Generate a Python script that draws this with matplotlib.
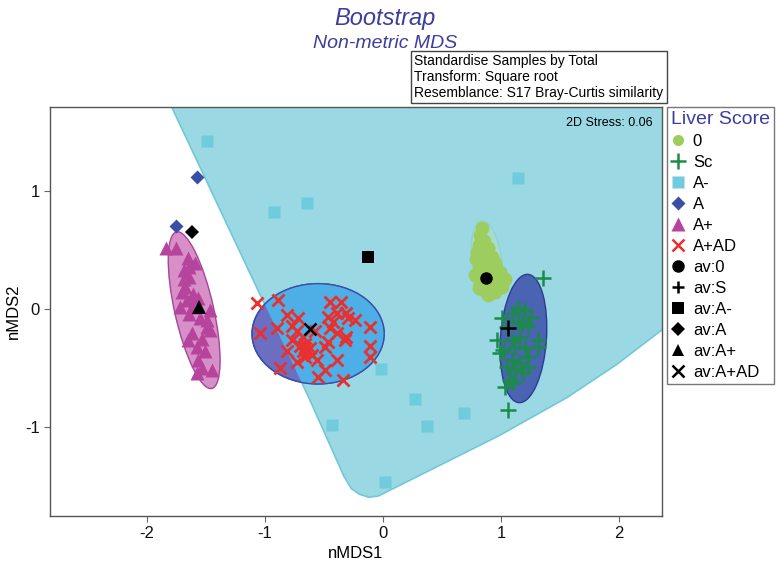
import matplotlib.pyplot as plt
from matplotlib.patches import Ellipse, Polygon
from matplotlib.lines import Line2D

plt.rcParams["font.family"] = ["Liberation Sans", "DejaVu Sans"]
plt.rcParams["axes.unicode_minus"] = False

# smoothed bootstrap region of the A- group (nMDS1, nMDS2)
region_x = [-1.97, -1.79, -1.14, -0.62, -0.33, -0.27, -0.20, -0.12, -0.04, 0.31, 0.65, 0.99, 1.56, 1.98, 2.36, 2.69, 2.69]
region_y = [2.11, 1.71, 0.33, -0.77, -1.42, -1.52, -1.57, -1.595, -1.585, -1.41, -1.24, -1.07, -0.75, -0.47, -0.18, 0.12, 2.11]

# bootstrap means per liver score
s0_x = [0.84, 0.82, 0.86, 0.81, 0.89, 0.80, 0.86, 0.92, 0.79, 0.87, 0.95, 0.81, 0.91, 0.99, 0.78,
        0.86, 0.97, 1.03, 0.82, 0.92, 1.01, 0.86, 0.95, 0.89, 0.81]
s0_y = [0.69, 0.63, 0.58, 0.54, 0.52, 0.48, 0.46, 0.44, 0.42, 0.40, 0.39, 0.35, 0.33, 0.31, 0.29,
        0.26, 0.25, 0.25, 0.22, 0.20, 0.19, 0.16, 0.14, 0.12, 0.18]

sc_x = [1.36, 1.06, 1.14, 1.10, 1.20, 1.01, 1.25, 1.14, 1.18, 1.05, 1.23, 1.31, 0.97, 1.09, 1.16,
        1.02, 1.12, 1.20, 1.23, 1.09, 1.16, 1.23, 1.05, 1.12, 1.19, 1.08, 1.03, 1.10, 1.31, 0.99]
sc_y = [0.26, -0.86, 0.01, -0.03, -0.01, -0.08, -0.07, -0.11, -0.12, -0.15, -0.14, -0.26, -0.26, -0.26, -0.24,
        -0.35, -0.32, -0.33, -0.41, -0.43, -0.46, -0.49, -0.49, -0.52, -0.54, -0.60, -0.66, -0.63, -0.32, -0.37]

am_x = [-1.49, -0.92, -0.64, 1.14, -0.02, 0.27, 0.37, 0.69, -0.43, 0.02]
am_y = [1.42, 0.82, 0.90, 1.11, -0.51, -0.76, -0.99, -0.88, -0.98, -1.47]

a_x = [-1.58, -1.75]
a_y = [1.12, 0.70]

ap_x = [-1.84, -1.75, -1.65, -1.69, -1.64, -1.68, -1.61, -1.66, -1.57, -1.47, -1.64, -1.55, -1.49, -1.62, -1.53,
        -1.47, -1.58, -1.51, -1.57, -1.53, -1.45, -1.58, -1.64, -1.69, -1.72, -1.62, -1.65, -1.49, -1.70, -1.59]
ap_y = [0.52, 0.52, 0.43, 0.33, 0.27, 0.19, 0.13, 0.08, 0.09, -0.01, -0.04, -0.08, -0.15, -0.20, -0.25,
        -0.18, -0.32, -0.36, -0.43, -0.50, -0.52, -0.54, 0.36, 0.25, 0.02, 0.02, -0.26, -0.09, 0.14, 0.39]

apad_x = [-1.07, -0.89, -1.04, -0.90, -0.81, -0.72, -0.73, -0.77, -0.66, -0.70, -0.64, -0.66, -0.73, -0.87,
          -0.60, -0.56, -0.49, -0.55, -0.39, -0.34, -0.47, -0.49, -0.45, -0.36, -0.39, -0.31, -0.47, -0.42,
          -0.45, -0.30, -0.24, -0.32, -0.31, -0.11, -0.11, -0.11, -0.39, -0.58, -0.81, -0.68, -0.77,
          -0.66, -0.62, -0.68]
apad_y = [0.05, 0.08, -0.20, -0.16, -0.05, -0.08, -0.19, -0.26, -0.33, -0.31, -0.35, -0.41, -0.45, -0.50,
          -0.39, -0.43, -0.52, -0.58, -0.43, -0.60, -0.28, -0.32, 0.06, 0.06, -0.03, -0.03, -0.07, -0.11,
          -0.16, -0.08, -0.09, -0.26, -0.24, -0.15, -0.31, -0.41, -0.20, -0.19, -0.36, -0.24, -0.14,
          -0.30, -0.33, -0.36]

# group averages
av_labels = ["av:0", "av:S", "av:A-", "av:A", "av:A+", "av:A+AD"]
av_x = [0.87, 1.06, -0.13, -1.62, -1.56, -0.62]
av_y = [0.26, -0.16, 0.44, 0.65, 0.02, -0.17]
av_markers = ["o", "+", "s", "D", "^", "x"]
av_sizes = [9, 11, 8.5, 7, 10.5, 8.5]

# 95% bootstrap regions: centre x, centre y, width, height, angle
ell_0 = (0.88, 0.42, 0.25, 0.66, 8)
ell_sc = (1.19, -0.25, 0.39, 1.09, -4)
ell_ap = (-1.60, -0.01, 0.33, 1.36, 12.7)
ell_apad = (-0.55, -0.21, 1.12, 0.85, 0)

fig = plt.figure(figsize=(7.82, 5.63), dpi=100)
ax = fig.add_axes([0.0639, 0.0835, 0.7826, 0.7265])

region = Polygon(list(zip(region_x, region_y)), closed=True, fc="#9ad8e4", ec="#72c7d9",
                 lw=1.2, joinstyle="round", zorder=1)
ax.add_patch(region)

ax.add_patch(Ellipse(ell_ap[:2], ell_ap[2], ell_ap[3], angle=ell_ap[4], fc="#d78fc7", ec="#a8449a", lw=1, zorder=2))
ax.add_patch(Ellipse(ell_apad[:2], ell_apad[2], ell_apad[3], angle=ell_apad[4], fc="#6c6ec2", ec="#3b4fa8", lw=1, zorder=2))
inner = Ellipse(ell_apad[:2], ell_apad[2], ell_apad[3], angle=ell_apad[4], fc="#4eaee6", ec="none", zorder=2)
ax.add_patch(inner)
inner.set_clip_path(region)
ax.add_patch(Ellipse(ell_apad[:2], ell_apad[2], ell_apad[3], angle=ell_apad[4], fc="none", ec="#3b4fa8", lw=1, zorder=2))
ax.add_patch(Ellipse(ell_sc[:2], ell_sc[2], ell_sc[3], angle=ell_sc[4], fc="#4a63b3", ec="#2b3d8f", lw=1, zorder=2))
ax.add_patch(Ellipse(ell_0[:2], ell_0[2], ell_0[3], angle=ell_0[4], fc="#a8dccb", ec="#8fd2d8", lw=1, zorder=2))

ax.plot(am_x, am_y, ls="none", marker="s", ms=8.5, color="#70cbdd", mec="none", zorder=3)
ax.plot(s0_x, s0_y, ls="none", marker="o", ms=10, color="#9dcc5f", mec="none", zorder=3)
ax.plot(sc_x, sc_y, ls="none", marker="+", ms=11, mew=1.8, color="#1b8c47", zorder=3)
ax.plot(a_x, a_y, ls="none", marker="D", ms=7, color="#3a4ea5", mec="none", zorder=3)
ax.plot(ap_x, ap_y, ls="none", marker="^", ms=10, color="#b6449c", mec="none", zorder=3)
ax.plot(apad_x, apad_y, ls="none", marker="x", ms=9, mew=2, color="#e8302e", zorder=3)
for x, y, m, s in zip(av_x, av_y, av_markers, av_sizes):
    lw = 1.8 if m in "+x" else 0
    ax.plot(x, y, ls="none", marker=m, ms=s, mew=lw, color="black", zorder=4)

ax.set_xlim(-2.822, 2.364)
ax.set_ylim(-1.754, 1.712)
ax.set_xticks([-2, -1, 0, 1, 2])
ax.set_yticks([-1, 0, 1])
ax.tick_params(direction="out", length=4, color="#666666", labelsize=12, labelcolor="#111111")
for sp in ax.spines.values():
    sp.set_color("#555555")
    sp.set_linewidth(1)
ax.set_xlabel("nMDS1", fontsize=12, labelpad=3)
ax.set_ylabel("nMDS2", fontsize=12, labelpad=3)
ax.text(0.985, 0.975, "2D Stress: 0.06", transform=ax.transAxes, ha="right", va="top", fontsize=9)

fig.text(385 / 782, 1 - 19 / 563, "Bootstrap", ha="center", va="center", fontsize=17,
         style="italic", color="#3d3d9e")
fig.text(385 / 782, 1 - 44 / 563, "Non-metric MDS", ha="center", va="center", fontsize=14,
         style="italic", color="#3d3d9e")
fig.text(414 / 782, 1 - 77 / 563,
         "Standardise Samples by Total\nTransform: Square root\nResemblance: S17 Bray-Curtis similarity",
         ha="left", va="center", fontsize=10, linespacing=1.15,
         bbox=dict(boxstyle="square,pad=0.25", fc="white", ec="#444444", lw=1))

handles = [
    Line2D([], [], ls="none", marker="o", ms=8, color="#9dcc5f", mec="none"),
    Line2D([], [], ls="none", marker="+", ms=11, mew=1.8, color="#1b8c47"),
    Line2D([], [], ls="none", marker="s", ms=8, color="#70cbdd", mec="none"),
    Line2D([], [], ls="none", marker="D", ms=7, color="#3a4ea5", mec="none"),
    Line2D([], [], ls="none", marker="^", ms=10, color="#b6449c", mec="none"),
    Line2D([], [], ls="none", marker="x", ms=8, mew=1.8, color="#e8302e"),
]
labels = ["0", "Sc", "A-", "A", "A+", "A+AD"]
for m in av_markers:
    handles.append(Line2D([], [], ls="none", marker=m, ms=9 if m != "D" else 7,
                          mew=1.8 if m in "+x" else 0, color="black"))
labels += av_labels

leg = fig.legend(handles, labels, loc="upper left", bbox_to_anchor=(667 / 782, 1 - 107 / 563),
                 bbox_transform=fig.transFigure, borderaxespad=0, fontsize=12, title="Liver Score",
                 title_fontproperties={"size": 14}, alignment="left", frameon=True, fancybox=False,
                 edgecolor="#555555", handlelength=0.8, handletextpad=0.5, labelspacing=0.36,
                 borderpad=0.25)
leg.get_title().set_color("#3d3d9e")
leg.get_frame().set_linewidth(1)

fig.savefig("out.png", dpi=100)
